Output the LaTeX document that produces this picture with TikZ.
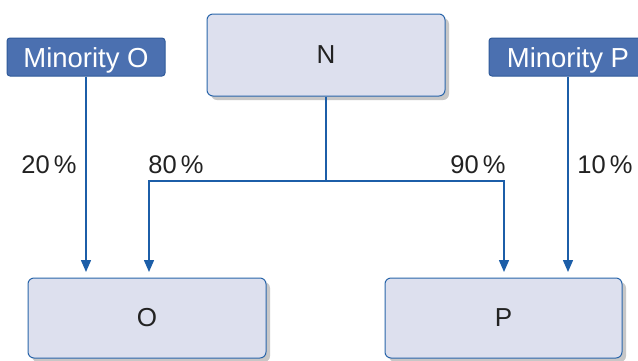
\documentclass[tikz,border=0pt]{standalone}
\usepackage{fontspec}
\setmainfont{Liberation Sans}
\usetikzlibrary{arrows.meta,shadows}
\definecolor{boxfill}{HTML}{DDE0EE}
\definecolor{boxline}{HTML}{2A66AA}
\definecolor{minfill}{HTML}{4B70B0}
\definecolor{minline}{HTML}{2F5A9A}
\definecolor{wire}{HTML}{1C5EA8}
\definecolor{txt}{HTML}{222222}
\tikzset{
  mainbox/.style={draw=boxline, line width=1pt, fill=boxfill, rounded corners=6pt,
    minimum width=238pt, minimum height=80pt, inner sep=0pt,
    text=txt, font=\fontsize{26}{30}\selectfont,
    drop shadow={shadow xshift=4pt, shadow yshift=-4pt, fill=black!22, opacity=1}},
  minbox/.style={draw=minline, line width=1pt, fill=minfill, rounded corners=3pt,
    minimum width=158pt, minimum height=38pt, inner sep=0pt,
    text height=20pt, text depth=0pt,
    text=white, font=\fontsize{27.5}{30}\selectfont},
  wirestyle/.style={draw=wire, line width=1.5pt},
  arr/.style={wirestyle, -{Triangle[length=12pt,width=10pt]}, shorten >=6pt},
  pct/.style={text=txt, font=\fontsize{25.5}{28}\selectfont, inner sep=0pt}
}
\begin{document}
\begin{tikzpicture}[x=1pt,y=-1pt]
\useasboundingbox (0,0) rectangle (638,360);
\clip (0,0) rectangle (638,360);
\fill[white] (0,0) rectangle (638,360);

% boxes
\node[mainbox, minimum height=82pt] (N) at (326,55) {N};
\node[mainbox] (O) at (147,318) {O};
\node[mainbox, minimum width=237pt] (P) at (503.5,318) {P};
\node[minbox] (MO) at (86,57) {Minority O};
\node[minbox] (MP) at (568,57) {Minority P};

% junction and arrow targets
\coordinate (J) at (326,181);
\coordinate (OL) at (86,278);
\coordinate (OR) at (149,278);
\coordinate (PL) at (504,278);
\coordinate (PR) at (568,278);

% connectors
\draw[wirestyle] (N.south) -- (J);
\draw[arr] (J) -| (OR);
\draw[arr] (J) -| (PL);
\draw[arr] (MO.south) -- (OL);
\draw[arr] (MP.south) -- (PR);

% shares
\node[pct] (p20) at (49,165) {20\,\%};
\node[pct] (p80) at (176,165) {80\,\%};
\node[pct] (p90) at (478,165) {90\,\%};
\node[pct] (p10) at (605,165) {10\,\%};
\end{tikzpicture}
\end{document}
